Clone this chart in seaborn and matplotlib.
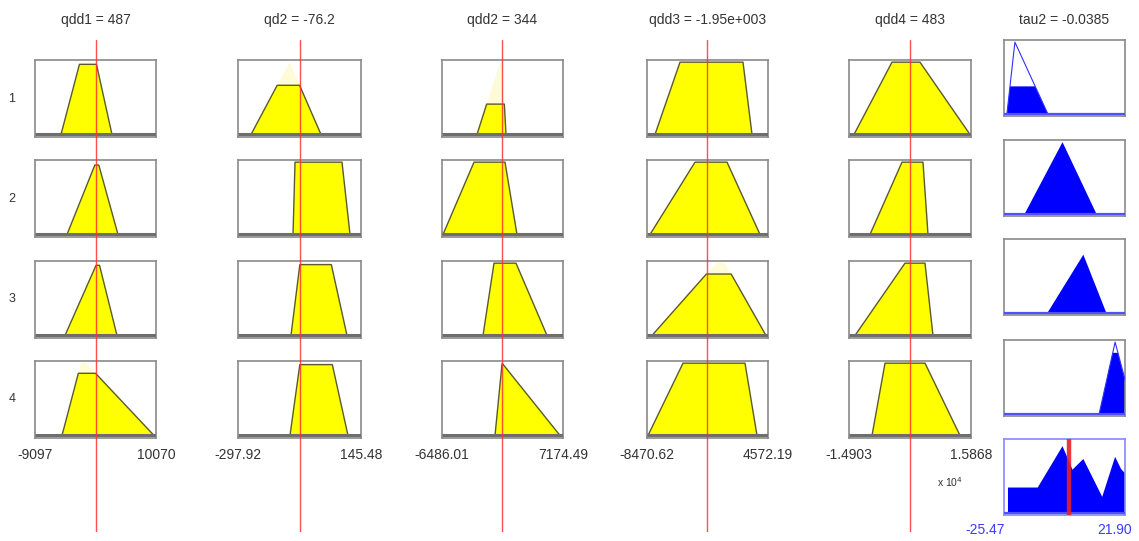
import numpy as np
import matplotlib
matplotlib.use("Agg")
import matplotlib.pyplot as plt
import seaborn as sns

# Input variables (range, crisp input shown by the red line)
INPUT_NAMES = ["qdd1", "qd2", "qdd2", "qdd3", "qdd4"]
INPUT_TITLES = ["qdd1 = 487", "qd2 = -76.2", "qdd2 = 344", "qdd3 = -1.95e+003", "qdd4 = 483"]
INPUT_LO = [-9097, -297.92, -6486.01, -8470.62, -1.4903]
INPUT_HI = [10070, 145.48, 7174.49, 4572.19, 1.5868]
INPUT_VALUE = [487, -76.2, 344, -1950, 0.0483]
LO_LABELS = ["-9097", "-297.92", "-6486.01", "-8470.62", "-1.4903"]
HI_LABELS = ["10070", "145.48", "7174.49", "4572.19", "1.5868"]

# Trapezoid MF corners (a, b, c, d) for rules 1..4, one list per input
QDD1_MF = [(-4979, -1969, 565, 3100), (-4028, 565, 882, 4050),
           (-4345, 724, 1041, 3892), (-4820, -1810, -1019, 9753)]
QD2_MF = [(-251.0, -112.2, -112.2, 1.3), (-99.6, -92.4, 77.0, 105.9),
          (-106.9, -74.4, 37.4, 95.0), (-110.5, -74.4, 41.0, 98.6)]
QDD2_MF = [(-2535, 62, 288, 740), (-6373, -2873, 627, 1982),
           (-1857, -615, 1869, 5369), (-502, 300, 300, 6836)]
QDD3_MF = [(-7608, -4913, 1878, 2848), (-8147, -3296, 154, 3711),
           (-7932, -1033, -62, 4357), (-8363, -4590, 2094, 3388)]
QDD4_MF = [(-1.364, -0.406, 0.300, 1.561), (-0.961, -0.154, 0.376, 0.502),
           (-1.339, -0.078, 0.427, 0.628), (-0.910, -0.582, 0.427, 1.309)]
INPUT_MFS = [QDD1_MF, QD2_MF, QDD2_MF, QDD3_MF, QDD4_MF]

# membership degree of the crisp input, per input and rule
QDD1_DEG = [0.97, 0.96, 0.97, 0.86]
QD2_DEG = [0.68, 1.0, 0.98, 0.98]
QDD2_DEG = [0.42, 1.0, 1.0, 0.99]
QDD3_DEG = [1.0, 1.0, 0.85, 1.0]
QDD4_DEG = [1.0, 1.0, 1.0, 1.0]
INPUT_DEGS = [QDD1_DEG, QD2_DEG, QDD2_DEG, QDD3_DEG, QDD4_DEG]

# Output tau2
OUT_TITLE = "tau2 = -0.0385"
OUT_LO, OUT_HI = -25.47, 21.90
OUT_VALUE = -0.0385
OUT_MF = [(-24.31, -21.20, -8.38), (-17.31, -2.56, 10.65),
          (-8.38, 5.60, 14.53), (11.81, 18.03, 25.40)]
OUT_PEAK = [1.0, 1.0, 0.81, 1.0]
OUT_LEVEL = [0.38, 1.0, 1.0, 0.85]

# aggregated output
AGG_X = [-23.92, -23.92, -12.27, -2.56, 1.33, 5.60, 12.98, 18.03, 20.36, 21.90, 21.90]
AGG_Y = [0.0, 0.35, 0.35, 0.93, 0.60, 0.75, 0.22, 0.78, 0.61, 0.55, 0.0]

W, H = 1139, 541
COL_LEFT = [35, 238, 442, 647, 849]
COL_W = [121, 123, 121, 121, 122]
ROW_TOP = [60, 160, 261, 361]
ROW_H = 77
OUT_LEFT, OUT_W = 1004, 121
OUT_TOP = [40, 140, 239, 340, 439]
OUT_H = 76

YELLOW = "#ffff00"
FAINT = "#fffbd8"
EDGE = "#5a5a30"
BOX = "#8a8a8a"
BLUE = "#0000ff"
RED = "#ff3030"
TXT = "#333333"
FS = 10
YLIM = (-0.035, 1.03)

sns.set_theme(style="white")
plt.rcParams["font.family"] = ["Liberation Sans", "DejaVu Sans"]


def rect(left, top, w, h):
    return [left / W, 1 - (top + h) / H, w / W, h / H]


def style_box(ax, color=BOX):
    ax.set_xticks([])
    ax.set_yticks([])
    for s in ax.spines.values():
        s.set_color(color)
        s.set_linewidth(1.2)
        s.set_visible(True)
    ax.set_ylim(*YLIM)


fig = plt.figure(figsize=(W / 100, H / 100), dpi=100)
fig.patch.set_facecolor("white")

for j in range(5):
    lo, hi = INPUT_LO[j], INPUT_HI[j]
    for i in range(4):
        ax = fig.add_axes(rect(COL_LEFT[j], ROW_TOP[i], COL_W[j], ROW_H))
        style_box(ax)
        ax.set_xlim(lo, hi)
        a, b, c, d = INPUT_MFS[j][i]
        h = INPUT_DEGS[j][i]
        if h < 1:
            ax.fill([a, b, c, d], [0, 1, 1, 0], color=FAINT, lw=0, zorder=1)
        xs = [a, a + h * (b - a), d - h * (d - c), d]
        ys = [0, h, h, 0]
        ax.fill(xs, ys, color=YELLOW, lw=0, zorder=2)
        sns.lineplot(x=xs, y=ys, sort=False, estimator=None, color=EDGE, lw=1.0, ax=ax, zorder=3)
        ax.plot([lo, hi], [0, 0], color="#6e6e6e", lw=2.2, zorder=4, solid_capstyle="butt")
        ax.set_xlabel("")
        ax.set_ylabel("")
        if j == 0:
            fig.text(12 / W, 1 - (ROW_TOP[i] + ROW_H / 2) / H, str(i + 1),
                     ha="center", va="center", fontsize=9, color=TXT)
        if i == 3:
            ax.text(0, -0.22, LO_LABELS[j], transform=ax.transAxes, ha="center", va="center",
                    fontsize=FS, color=TXT)
            ax.text(1, -0.22, HI_LABELS[j], transform=ax.transAxes, ha="center", va="center",
                    fontsize=FS, color=TXT)
    fig.text((COL_LEFT[j] + COL_W[j] / 2) / W, 1 - 20 / H, INPUT_TITLES[j],
             ha="center", va="center", fontsize=FS, color=TXT)

fig.text(950 / W, 1 - 482 / H, r"x 10$^4$", ha="center", va="center", fontsize=7.5, color=TXT)

# output rule panels
for i in range(4):
    ax = fig.add_axes(rect(OUT_LEFT, OUT_TOP[i], OUT_W, OUT_H))
    style_box(ax)
    ax.set_xlim(OUT_LO, OUT_HI)
    a, b, d = OUT_MF[i]
    p = OUT_PEAK[i]
    lv = min(OUT_LEVEL[i], p)
    xs = [a, a + lv / p * (b - a), d - lv / p * (d - b), d]
    ys = [0, lv, lv, 0]
    ax.fill(xs, ys, color=BLUE, lw=0, zorder=2)
    if lv < p:
        sns.lineplot(x=[a, b, d], y=[0, p, 0], sort=False, estimator=None,
                     color="#3030ff", lw=0.8, ax=ax, zorder=3)
    ax.plot([OUT_LO, OUT_HI], [0, 0], color="#5050ff", lw=1.6, zorder=4)
    ax.set_xlabel("")
    ax.set_ylabel("")

# aggregated output
ax = fig.add_axes(rect(OUT_LEFT, OUT_TOP[4], OUT_W, OUT_H))
style_box(ax, color="#8888ff")
ax.set_xlim(OUT_LO, OUT_HI)
ax.fill(AGG_X, AGG_Y, color=BLUE, lw=0, zorder=2)
ax.plot([OUT_LO, OUT_HI], [0, 0], color="#5050ff", lw=1.6, zorder=4)
ax.axvline(OUT_VALUE, color="#e8202a", lw=3.2, alpha=0.9, zorder=5)
ax.text(0.01, -0.2, "-25.47", transform=ax.transAxes, ha="right", va="center",
        fontsize=FS, color="#3a3aff")
ax.text(0.77, -0.2, "21.90", transform=ax.transAxes, ha="left", va="center",
        fontsize=FS, color="#3a3aff")
fig.text((OUT_LEFT + OUT_W / 2) / W, 1 - 20 / H, OUT_TITLE,
         ha="center", va="center", fontsize=FS, color=TXT)

# red input lines spanning the whole column
for j in range(5):
    ov = fig.add_axes(rect(COL_LEFT[j], 40, COL_W[j], 492))
    ov.set_xlim(INPUT_LO[j], INPUT_HI[j])
    ov.set_ylim(0, 1)
    ov.axis("off")
    ov.patch.set_alpha(0)
    ov.axvline(INPUT_VALUE[j], color=RED, lw=1.0, alpha=0.85)

fig.savefig("out.png", dpi=100)
